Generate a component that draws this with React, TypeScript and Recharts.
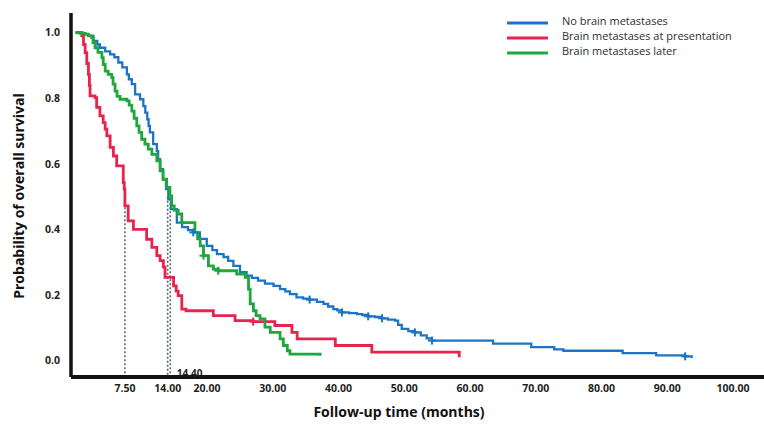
import React from 'react';
import { LineChart, Line, XAxis, YAxis, ReferenceLine, ReferenceDot, Legend, Label } from 'recharts';

// ---- Data ----
const seriesNames = ['No brain metastases', 'Brain metastases at presentation', 'Brain metastases later'];
const seriesColors = ['#1c74c6', '#e8234c', '#1fa63c'];

const noMetTime = [0, 1.14, 1.9, 2.7, 3.3, 3.7, 4.5, 5.25, 5.9, 6.5, 7.1, 7.8, 8.1, 8.55, 9.05, 9.8, 10.3, 10.6, 10.9, 11.1, 11.3, 11.8, 12.35, 12.55, 12.85, 13.3, 13.75, 14.1, 14.5, 15.4, 16.2, 17.1, 17.9, 18.9, 19.95, 20.8, 21.5, 22.5, 23.2, 24.0, 25.0, 26.0, 26.8, 27.75, 28.8, 30.1, 31.1, 31.9, 32.6, 33.6, 34.6, 35.6, 36.7, 37.7, 38.4, 39.2, 39.8, 40.5, 41.6, 42.8, 43.6, 44.5, 45.55, 46.6, 47.5, 48.6, 49.05, 49.6, 50.6, 51.6, 52.5, 53.4, 54.2, 63.5, 69.3, 72.8, 74.2, 83.2, 88.3, 92.7, 93.7];
const noMetSurv = [1.0, 0.996, 0.99, 0.975, 0.964, 0.954, 0.943, 0.934, 0.925, 0.909, 0.894, 0.873, 0.858, 0.843, 0.812, 0.797, 0.776, 0.756, 0.736, 0.716, 0.696, 0.66, 0.639, 0.614, 0.584, 0.553, 0.523, 0.492, 0.462, 0.421, 0.407, 0.398, 0.391, 0.371, 0.35, 0.337, 0.325, 0.316, 0.304, 0.289, 0.27, 0.259, 0.252, 0.244, 0.235, 0.228, 0.218, 0.211, 0.203, 0.193, 0.189, 0.186, 0.179, 0.173, 0.165, 0.157, 0.153, 0.147, 0.145, 0.142, 0.139, 0.135, 0.133, 0.129, 0.125, 0.122, 0.109, 0.097, 0.09, 0.086, 0.077, 0.068, 0.061, 0.052, 0.041, 0.034, 0.03, 0.023, 0.016, 0.013, 0.008];
const noMetCensor = [17.9, 35.6, 40.5, 44.5, 46.6, 51.6, 54.2, 92.7];

const atPresTime = [0, 0.43, 0.94, 1.2, 1.45, 1.7, 1.95, 2.1, 2.2, 2.95, 3.2, 3.7, 4.2, 4.5, 4.75, 5.25, 5.75, 6.25, 7.25, 7.4, 7.5, 8.0, 8.8, 10.8, 11.6, 12.35, 12.85, 13.35, 13.6, 14.9, 15.3, 15.6, 16.15, 16.8, 20.95, 24.25, 27.0, 30.3, 32.9, 33.7, 39.5, 45.05, 58.3, 58.35];
const atPresSurv = [1.0, 1.0, 0.99, 0.964, 0.939, 0.906, 0.873, 0.839, 0.807, 0.802, 0.772, 0.746, 0.726, 0.706, 0.685, 0.65, 0.624, 0.594, 0.543, 0.523, 0.472, 0.426, 0.4, 0.37, 0.345, 0.32, 0.305, 0.285, 0.254, 0.228, 0.212, 0.198, 0.157, 0.152, 0.137, 0.122, 0.119, 0.107, 0.086, 0.066, 0.046, 0.026, 0.026, 0.01];
const atPresCensor = [27.0];

const laterTime = [0, 0.7, 1.45, 1.95, 2.45, 2.65, 2.95, 3.4, 4.0, 4.2, 4.5, 4.95, 5.5, 5.7, 6.0, 6.3, 6.75, 7.8, 8.15, 8.55, 8.9, 9.3, 9.65, 10.05, 10.55, 11.05, 11.6, 12.35, 12.85, 13.3, 13.85, 14.35, 14.6, 15.0, 15.6, 16.15, 18.15, 18.55, 18.95, 19.45, 20.2, 20.95, 21.7, 24.5, 25.8, 26.3, 26.55, 27.05, 27.45, 28.05, 28.8, 29.6, 31.1, 31.6, 32.2, 32.6, 37.2];
const laterSurv = [1.0, 0.998, 0.995, 0.99, 0.985, 0.97, 0.954, 0.94, 0.924, 0.903, 0.883, 0.873, 0.863, 0.843, 0.822, 0.806, 0.797, 0.792, 0.779, 0.761, 0.739, 0.716, 0.696, 0.675, 0.66, 0.645, 0.629, 0.609, 0.579, 0.553, 0.528, 0.502, 0.472, 0.459, 0.447, 0.421, 0.391, 0.371, 0.35, 0.32, 0.289, 0.279, 0.274, 0.264, 0.254, 0.218, 0.173, 0.152, 0.137, 0.127, 0.102, 0.086, 0.066, 0.046, 0.03, 0.02, 0.015];
const laterCensor = [19.45, 21.7];

const xTicks = [7.5, 14, 20, 30, 40, 50, 60, 70, 80, 90, 100];
const yTicks = [0, 0.2, 0.4, 0.6, 0.8, 1.0];
const medianTimes = [7.5, 14.0, 14.4];
const medianTops = [0.48, 0.5, 0.48];
const medianLabel = '14.40';
const xTitle = 'Follow-up time (months)';
const yTitle = 'Probability of overall survival';

const build = (times: number[], surv: number[], cens: number[]) =>
  times.map((t, i) => ({ t, s: surv[i], c: cens.includes(t) }));

const seriesData = [
  build(noMetTime, noMetSurv, noMetCensor),
  build(atPresTime, atPresSurv, atPresCensor),
  build(laterTime, laterSurv, laterCensor),
];

const FONT = '"Open Sans", "DejaVu Sans", sans-serif';

const makeCensorDot = (color: string) => (props: any) => {
  const { cx, cy, payload, index } = props;
  if (!payload || !payload.c || cx == null || cy == null) return <g key={'d' + index} />;
  return (
    <g key={'d' + index}>
      <line x1={cx - 4} x2={cx + 4} y1={cy} y2={cy} stroke={color} strokeWidth={2} />
      <line x1={cx} x2={cx} y1={cy - 4} y2={cy + 4} stroke={color} strokeWidth={2} />
    </g>
  );
};

const LegendContent = () => (
  <svg width={264} height={60}>
    {seriesNames.map((n, i) => {
      const y = [13, 28, 43][i];
      return (
        <g key={n}>
          <line x1={7} x2={48} y1={y} y2={y} stroke={seriesColors[i]} strokeWidth={3} />
          <text x={62} y={y + 2} fontFamily={FONT} fontSize={11} fill="#2a2f33">
            {n}
          </text>
        </g>
      );
    })}
  </svg>
);

export default function App() {
  return (
    <div style={{ position: 'absolute', left: 0, top: 0, width: 764, height: 425, background: '#fff' }}>
      <LineChart width={764} height={425} margin={{ top: 13, right: 0, bottom: 0, left: 0 }}>
        <XAxis
          dataKey="t"
          type="number"
          domain={[-0.7, 104.7]}
          ticks={xTicks}
          interval={0}
          allowDataOverflow
          tickFormatter={(v: number) => v.toFixed(2)}
          tickLine={false}
          tickSize={0}
          tickMargin={8}
          height={48}
          axisLine={{ stroke: '#111', strokeWidth: 4 }}
          tick={{ fontFamily: FONT, fontSize: 10.5, fontWeight: 700, fill: '#1e1e1e' }}
        >
          <Label
            content={() => (
              <text x={399} y={417} textAnchor="middle" fontFamily={FONT} fontSize={14} fontWeight={700} fill="#111">
                {xTitle}
              </text>
            )}
          />
        </XAxis>
        <YAxis
          type="number"
          domain={[-0.05, 1.06]}
          ticks={yTicks}
          interval={0}
          allowDataOverflow
          width={71}
          tickFormatter={(v: number) => v.toFixed(1)}
          tickLine={false}
          tickSize={0}
          tickMargin={11}
          axisLine={{ stroke: '#111', strokeWidth: 3.5 }}
          tick={{ fontFamily: FONT, fontSize: 10.5, fontWeight: 700, fill: '#1e1e1e' }}
        >
          <Label
            content={() => (
              <text
                x={18}
                y={196}
                transform="rotate(-90 18 196)"
                textAnchor="middle"
                dominantBaseline="central"
                fontFamily={FONT}
                fontSize={14}
                fontWeight={700}
                fill="#111"
              >
                {yTitle}
              </text>
            )}
          />
        </YAxis>
        {medianTimes.map((m, i) => (
          <ReferenceLine
            key={'m' + i}
            segment={[
              { x: m, y: medianTops[i] },
              { x: m, y: -0.05 },
            ]}
            stroke="#5b6570"
            strokeWidth={1.6}
            strokeDasharray="2 2"
          />
        ))}
        <ReferenceDot
          x={medianTimes[2]}
          y={0}
          r={0}
          shape={(p: any) => (
            <text x={p.cx + 6.5} y={p.cy + 16} fontFamily={FONT} fontSize={10} fontWeight={700} fill="#1e1e1e">
              {medianLabel}
            </text>
          )}
        />
        {seriesData.map((d, i) => (
          <Line
            key={seriesNames[i]}
            data={d}
            dataKey="s"
            name={seriesNames[i]}
            type="stepAfter"
            stroke={seriesColors[i]}
            strokeWidth={i === 0 ? 2.3 : 2.8}
            dot={makeCensorDot(seriesColors[i])}
            activeDot={false}
            isAnimationActive={false}
          />
        ))}
        <Legend
          layout="vertical"
          align="center"
          verticalAlign="middle"
          wrapperStyle={{ position: 'absolute', left: 500, top: 10, width: 264, height: 60 }}
          content={() => <LegendContent />}
        />
      </LineChart>
    </div>
  );
}
